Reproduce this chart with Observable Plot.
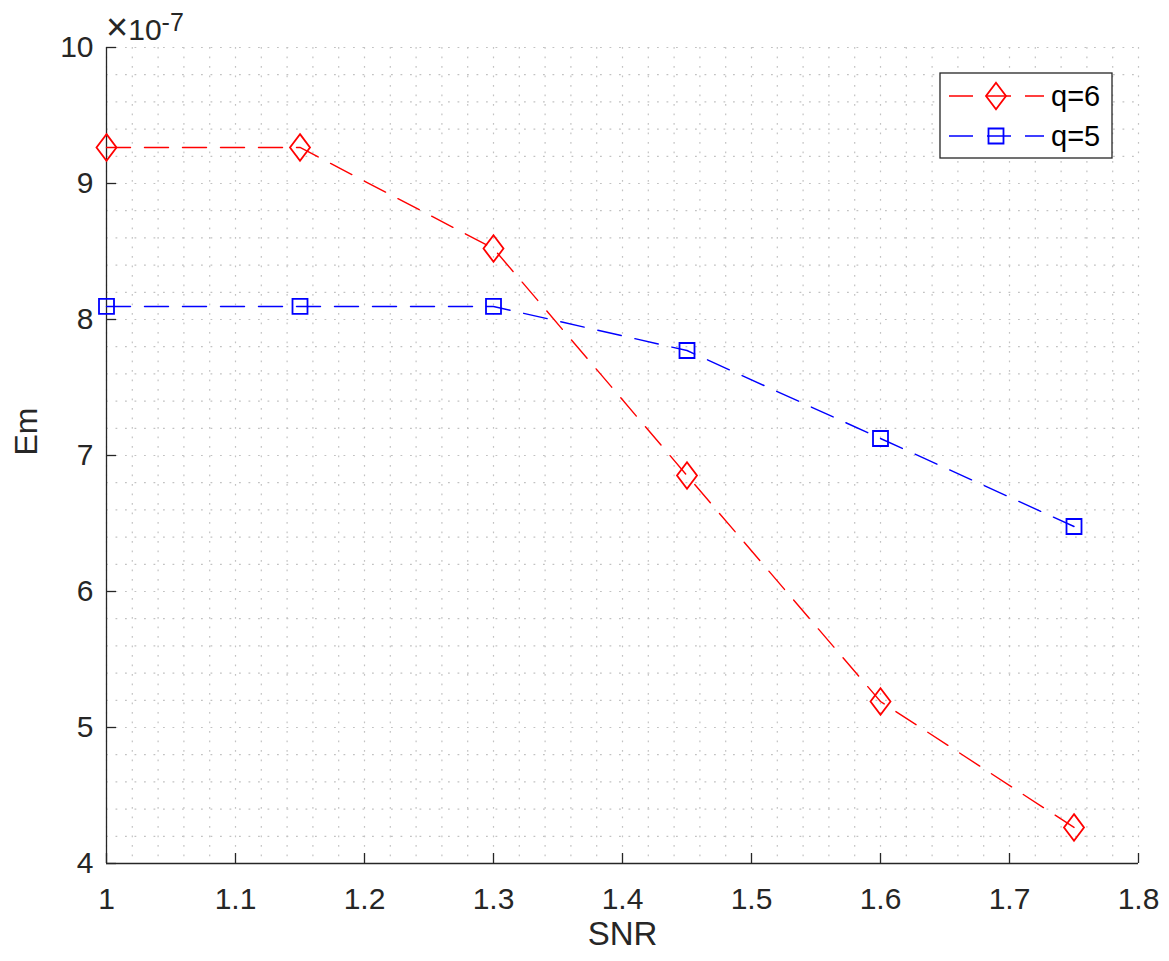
<!DOCTYPE html>
<html>
<head>
<meta charset="utf-8">
<script src="https://cdn.jsdelivr.net/npm/d3@7"></script>
<script src="https://cdn.jsdelivr.net/npm/@observablehq/plot@0.6"></script>
<style>
  body { margin: 0; background: #fff; }
  #chart { width: 1169px; height: 961px; }
</style>
</head>
<body>
<div id="chart"></div>
<script>
// SNR sweep and the mean error Em (mantissa, scaled by 10^-7)
const snr = [1, 1.15, 1.3, 1.45, 1.6, 1.75];
const emQ6 = [9.265, 9.265, 8.522, 6.853, 5.191, 4.265];
const emQ5 = [8.096, 8.096, 8.096, 7.772, 7.125, 6.478];
const exponent = "-7";

const seriesNames = ["q=6", "q=5"];
const seriesColors = ["#ff0000", "#0000ff"];

// Axis ticks and the finer grid
const xTicks = [1, 1.1, 1.2, 1.3, 1.4, 1.5, 1.6, 1.7, 1.8];
const yTicks = [4, 5, 6, 7, 8, 9, 10];
const xGrid = d3.range(0, 41).map(i => +(1 + i * 0.02).toFixed(2));
const yGrid = d3.range(0, 31).map(i => +(4 + i * 0.2).toFixed(1));

// Marker shapes: tall diamond and square
const diamondSym = {
  draw(ctx, size) {
    const r = Math.sqrt(size / Math.PI);
    ctx.moveTo(0, -r * 1.33);
    ctx.lineTo(r, 0);
    ctx.lineTo(0, r * 1.33);
    ctx.lineTo(-r, 0);
    ctx.closePath();
  }
};
const squareSym = {
  draw(ctx, size) {
    const r = Math.sqrt(size / Math.PI);
    ctx.rect(-r, -r, 2 * r, 2 * r);
  }
};
const seriesSymbols = [diamondSym, squareSym];
const seriesRadius = [10, 7.5];

const tables = [emQ6, emQ5].map((vals, s) =>
  snr.map((x, i) => ({snr: x, em: vals[i], series: seriesNames[s]}))
);

const axisColor = "#262626";
const fontFamily = "'Liberation Sans', Arial, sans-serif";
const gridStyle = {stroke: "#c2c2c2", strokeOpacity: 1, strokeWidth: 1.2, strokeDasharray: "1.8,7.7"};
const dash = "24,14";

const marks = [
  Plot.gridX(xGrid, gridStyle),
  Plot.gridY(yGrid, gridStyle),
  Plot.ruleY([4], {stroke: axisColor, strokeWidth: 1.3}),
  Plot.ruleX([1], {stroke: axisColor, strokeWidth: 1.3}),
  Plot.axisX(xTicks, {tickSize: -10, text: null, label: null, stroke: axisColor, strokeWidth: 1.3}),
  Plot.axisY(yTicks, {tickSize: -10, text: null, label: null, stroke: axisColor, strokeWidth: 1.3}),
  Plot.axisX(xTicks, {tickSize: 0, tickPadding: 24, label: null, fontSize: 30, fill: axisColor, tickFormat: d => String(d)}),
  Plot.axisY(yTicks, {tickSize: 0, tickPadding: 13, label: null, fontSize: 30, fill: axisColor, tickFormat: d => String(d)}),
  Plot.text(["SNR"], {frameAnchor: "bottom", dy: 81, fontSize: 33, fill: axisColor}),
  Plot.text(["Em"], {frameAnchor: "left", dx: -80, rotate: -90, fontSize: 32, fill: axisColor})
];

tables.forEach((rows, s) => {
  marks.push(Plot.line(rows, {x: "snr", y: "em", stroke: seriesColors[s], strokeWidth: 1.4, strokeDasharray: dash}));
  marks.push(Plot.dot(rows, {x: "snr", y: "em", symbol: seriesSymbols[s], r: seriesRadius[s], stroke: seriesColors[s], strokeWidth: 1.8, fill: "none"}));
});

const plot = Plot.plot({
  width: 1169,
  height: 961,
  marginLeft: 106,
  marginRight: 31,
  marginTop: 47,
  marginBottom: 98,
  style: {fontFamily, background: "#fff", color: axisColor},
  x: {domain: [1, 1.8]},
  y: {domain: [4, 10]},
  marks
});

const svg = d3.select(plot);

// Scale factor above the y axis: ×10^-7
const mult = svg.append("text")
  .attr("x", 106).attr("y", 40)
  .attr("text-anchor", "start")
  .attr("font-family", fontFamily)
  .attr("font-size", 30)
  .attr("fill", axisColor);
mult.append("tspan").style("font-size", "38px").text("\u00d7");
mult.append("tspan").text("10");
mult.append("tspan").attr("dy", -9).style("font-size", "25px").text(exponent);

// Legend box in the upper right of the axes
const lg = svg.append("g").attr("transform", "translate(940,73)");
lg.append("rect").attr("width", 172).attr("height", 85)
  .attr("fill", "#fff").attr("stroke", axisColor).attr("stroke-width", 1.3);
seriesNames.forEach((name, s) => {
  const yy = 23 + s * 40;
  lg.append("line").attr("x1", 9).attr("x2", 104).attr("y1", yy).attr("y2", yy)
    .attr("stroke", seriesColors[s]).attr("stroke-width", 1.4).attr("stroke-dasharray", dash);
  lg.append("path")
    .attr("d", d3.symbol(seriesSymbols[s], Math.PI * seriesRadius[s] ** 2)())
    .attr("transform", `translate(56,${yy})`)
    .attr("fill", "none").attr("stroke", seriesColors[s]).attr("stroke-width", 1.8);
  lg.append("text").attr("x", 111).attr("y", yy).attr("dy", "0.36em")
    .attr("text-anchor", "start")
    .attr("font-family", fontFamily)
    .attr("font-size", 29).attr("fill", "#000").text(name);
});

document.getElementById("chart").appendChild(plot);
</script>
</body>
</html>
